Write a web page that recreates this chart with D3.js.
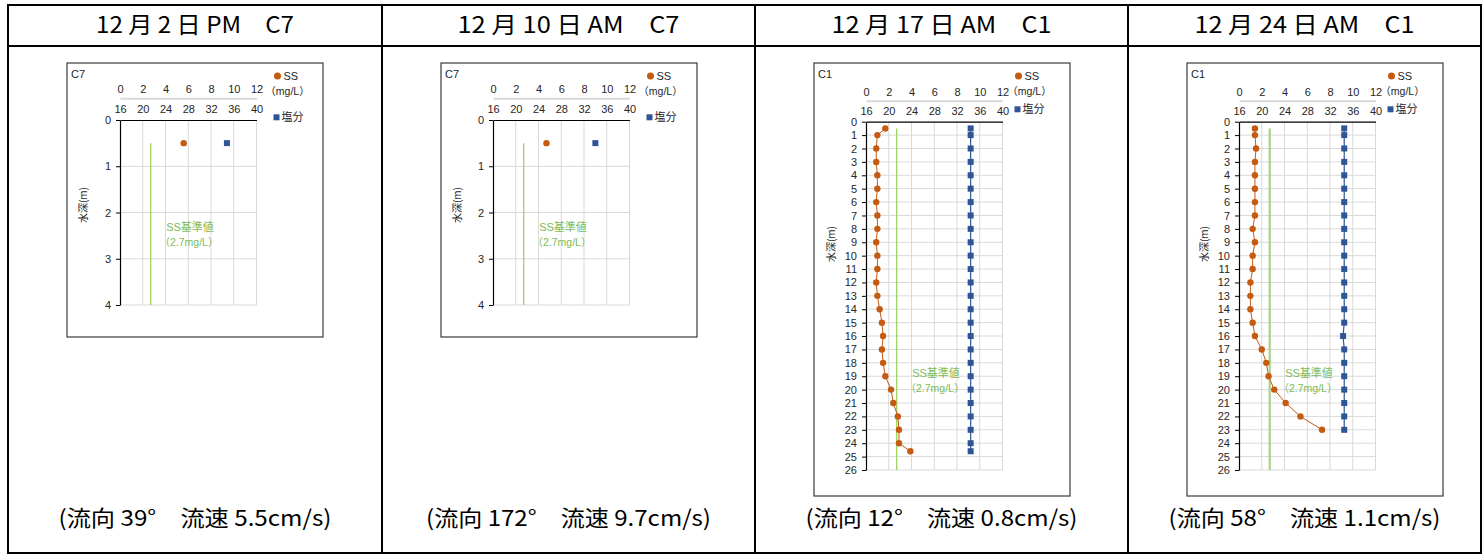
<!DOCTYPE html>
<html>
<head>
<meta charset="utf-8">
<script src="https://cdn.jsdelivr.net/npm/d3@7"></script>
<style>
  body { margin: 0; background: #fff; }
  svg { display: block; }
  .tick text { font-family: "Liberation Sans", "Noto Sans CJK JP", sans-serif; }
</style>
</head>
<body>
<svg id="chart" width="1483" height="557"></svg>
<script>
// table texts
var headers = ["12 月 2 日 PM　C7", "12 月 10 日 AM　C7", "12 月 17 日 AM　C1", "12 月 24 日 AM　C1"];
var footers = ["(流向 39°　流速 5.5cm/s)", "(流向 172°　流速 9.7cm/s)", "(流向 12°　流速 0.8cm/s)", "(流向 58°　流速 1.1cm/s)"];
var stations = ["C7", "C7", "C1", "C1"];
var depthMax = [4, 4, 26, 26];

// axis ticks
var ssTicks = [0, 2, 4, 6, 8, 10, 12];
var salTicks = [16, 20, 24, 28, 32, 36, 40];
var ssStandard = 2.7;

// 12/2 PM C7
var depth1 = [0.5];
var ss1 = [5.6];
var sal1 = [34.8];

// 12/10 AM C7
var depth2 = [0.5];
var ss2 = [4.7];
var sal2 = [34.0];

// 12/17 AM C1
var depth3 = [0.5, 1, 2, 3, 4, 5, 6, 7, 8, 9, 10, 11, 12, 13, 14, 15, 16, 17, 18, 19, 20, 21, 22, 23, 24, 24.6];
var ss3 = [1.7, 1.0, 0.9, 0.9, 1.0, 1.0, 0.9, 1.0, 1.0, 0.9, 1.0, 1.0, 0.9, 1.0, 1.2, 1.4, 1.5, 1.4, 1.5, 1.7, 2.2, 2.4, 2.8, 2.9, 2.9, 3.9];
var sal3 = [34.4, 34.4, 34.4, 34.4, 34.4, 34.4, 34.4, 34.4, 34.4, 34.4, 34.4, 34.4, 34.4, 34.4, 34.4, 34.4, 34.4, 34.4, 34.4, 34.4, 34.4, 34.4, 34.4, 34.4, 34.4, 34.4];

// 12/24 AM C1
var depth4 = [0.5, 1, 2, 3, 4, 5, 6, 7, 8, 9, 10, 11, 12, 13, 14, 15, 16, 17, 18, 19, 20, 21, 22, 23];
var ss4 = [1.4, 1.4, 1.5, 1.4, 1.4, 1.4, 1.4, 1.4, 1.2, 1.4, 1.2, 1.2, 1.0, 1.0, 1.0, 1.2, 1.4, 2.0, 2.4, 2.6, 3.1, 4.1, 5.4, 7.3];
var sal4 = [34.5, 34.5, 34.5, 34.5, 34.5, 34.5, 34.5, 34.5, 34.5, 34.5, 34.5, 34.5, 34.5, 34.5, 34.5, 34.5, 34.3, 34.5, 34.5, 34.5, 34.5, 34.5, 34.5, 34.5];

var depths = [depth1, depth2, depth3, depth4];
var ssVals = [ss1, ss2, ss3, ss4];
var salVals = [sal1, sal2, sal3, sal4];

var svg = d3.select("#chart");
var FONT = '"Liberation Sans", "Noto Sans CJK JP", sans-serif';
var JP = '"Noto Sans CJK JP", sans-serif';

// table layout
var colX = [8, 382, 755, 1128, 1481];
var tableTop = 5, headerBottom = 46, tableBottom = 553;
var headerLen = [198, 222, 220, 220];
var footerLen = [273, 285, 272, 272];

for (var i = 0; i < 4; i++) {
  var cx = (colX[i] + colX[i + 1]) / 2;
  // condensed look: big glyphs squeezed to the measured width
  svg.append("text")
    .attr("x", cx).attr("y", 33)
    .attr("text-anchor", "middle")
    .attr("font-family", JP).attr("font-size", 23)
    .attr("textLength", headerLen[i]).attr("lengthAdjust", "spacingAndGlyphs")
    .text(headers[i]);
  svg.append("text")
    .attr("x", cx).attr("y", 526)
    .attr("text-anchor", "middle")
    .attr("font-family", JP).attr("font-size", 22)
    .attr("textLength", footerLen[i]).attr("lengthAdjust", "spacingAndGlyphs")
    .text(footers[i]);
}

// draw each small chart
function drawPanel(p) {
  var col = colX[p];
  var tall = depthMax[p] > 4;
  var boxX = col + 59, boxY = 63, boxW = 256, boxH = tall ? 433 : 274;
  var plotL = col + (p === 0 ? 112 : 111), plotW = 136.5;
  var plotT = tall ? 121.7 : 120, plotB = tall ? 470 : 305;

  var g = svg.append("g");

  g.append("rect")
    .attr("x", boxX).attr("y", boxY).attr("width", boxW).attr("height", boxH)
    .attr("fill", "#fff").attr("stroke", "#3a3a3a").attr("stroke-width", 1.2);

  var y = d3.scaleLinear().domain([0, depthMax[p]]).range([plotT, plotB]);
  var xSS = d3.scaleLinear().domain([0, 12]).range([plotL, plotL + plotW]);
  var xSal = d3.scaleLinear().domain([16, 40]).range([plotL, plotL + plotW]);

  // gridlines
  g.selectAll(".vgrid").data(salTicks.slice(1)).enter().append("line")
    .attr("x1", function(d) { return xSal(d); }).attr("x2", function(d) { return xSal(d); })
    .attr("y1", plotT).attr("y2", plotB)
    .attr("stroke", "#d9d9d9").attr("stroke-width", 1);
  g.selectAll(".hgrid").data(d3.range(1, depthMax[p] + 1)).enter().append("line")
    .attr("x1", plotL).attr("x2", plotL + plotW)
    .attr("y1", function(d) { return y(d); }).attr("y2", function(d) { return y(d); })
    .attr("stroke", "#d9d9d9").attr("stroke-width", 1);

  // SS axis on top (gray line)
  var ssAxisY = tall ? 100.7 : 98.3;
  var ssAxis = g.append("g").attr("transform", "translate(0," + ssAxisY + ")")
    .call(d3.axisTop(xSS).tickValues(ssTicks).tickSize(0).tickPadding(5));
  ssAxis.select(".domain").attr("stroke", "#d9d9d9").attr("stroke-width", 2);
  ssAxis.selectAll("text").attr("font-size", 11).attr("fill", "#262626");

  // salinity axis at depth 0
  var salAxis = g.append("g").attr("transform", "translate(0," + plotT + ")")
    .call(d3.axisTop(xSal).tickValues(salTicks).tickSize(0).tickPadding(7));
  salAxis.select(".domain").attr("stroke", "#000").attr("stroke-width", 1.2);
  salAxis.selectAll("text").attr("font-size", 11).attr("fill", "#262626");

  // depth axis
  var yAxis = g.append("g").attr("transform", "translate(" + plotL + ",0)")
    .call(d3.axisLeft(y).tickValues(d3.range(0, depthMax[p] + 1)).tickFormat(d3.format("d"))
      .tickSize(4).tickPadding(5).tickSizeOuter(0));
  yAxis.select(".domain").attr("stroke", "#000").attr("stroke-width", 1.2);
  yAxis.selectAll("line").attr("stroke", "#000");
  yAxis.selectAll("text").attr("font-size", 11).attr("fill", "#262626");

  // y title
  var titleY = tall ? 244 : 205;
  g.append("text")
    .attr("transform", "translate(" + (boxX + (tall ? 17 : 16)) + "," + titleY + ") rotate(-90)")
    .attr("text-anchor", "middle").attr("dy", "0.35em")
    .attr("font-family", JP).attr("font-size", 10).attr("fill", "#262626")
    .text("水深(m)");

  // station label
  g.append("text")
    .attr("x", boxX + 4).attr("y", boxY + 15)
    .attr("font-family", FONT).attr("font-size", 11).attr("fill", "#262626")
    .text(stations[p]);

  // SS standard line
  g.append("line")
    .attr("x1", xSS(ssStandard)).attr("x2", xSS(ssStandard))
    .attr("y1", y(0.5)).attr("y2", plotB)
    .attr("stroke", p === 3 ? "#a9d18e" : "#92d050")
    .attr("stroke-width", p === 3 ? 2.2 : 1.2);
  var lblX = plotL + 70;
  var lblY = tall ? 373 : 227;
  g.append("text")
    .attr("x", lblX).attr("y", lblY).attr("dy", "0.35em")
    .attr("text-anchor", "middle")
    .attr("font-family", FONT).attr("font-size", 11).attr("fill", "#7dbb55")
    .text("SS基準値");
  g.append("text")
    .attr("x", lblX - 1).attr("y", lblY + 15).attr("dy", "0.35em")
    .attr("text-anchor", "middle")
    .attr("font-family", FONT).attr("font-size", 10.5).attr("fill", "#7dbb55")
    .text("（2.7mg/L）");

  // series
  var ssData = depths[p].map(function(d, j) { return { depth: d, v: ssVals[p][j] }; });
  var salData = depths[p].map(function(d, j) { return { depth: d, v: salVals[p][j] }; });

  var ssLine = d3.line().x(function(d) { return xSS(d.v); }).y(function(d) { return y(d.depth); });
  var salLine = d3.line().x(function(d) { return xSal(d.v); }).y(function(d) { return y(d.depth); });

  g.append("path").datum(salData).attr("d", salLine)
    .attr("fill", "none").attr("stroke", "#2f5597").attr("stroke-width", 1.2);
  g.selectAll(".sal").data(salData).enter().append("rect")
    .attr("x", function(d) { return xSal(d.v) - 3; })
    .attr("y", function(d) { return y(d.depth) - 3; })
    .attr("width", 6).attr("height", 6)
    .attr("fill", "#2f5597");

  g.append("path").datum(ssData).attr("d", ssLine)
    .attr("fill", "none").attr("stroke", "#c55a11").attr("stroke-width", 1);
  g.selectAll(".ss").data(ssData).enter().append("circle")
    .attr("cx", function(d) { return xSS(d.v); })
    .attr("cy", function(d) { return y(d.depth); })
    .attr("r", 3.2)
    .attr("fill", "#c55a11");

  // legend
  var legX = plotL + plotW + (tall ? 15 : 20);
  g.append("circle").attr("cx", legX + 1).attr("cy", 76).attr("r", 3.5).attr("fill", "#c55a11");
  g.append("text").attr("x", legX + 7).attr("y", 76).attr("dy", "0.35em")
    .attr("font-family", FONT).attr("font-size", 11).attr("fill", "#262626").text("SS");
  g.append("text").attr("x", legX + (tall ? 12 : 11)).attr("y", 91).attr("dy", "0.35em")
    .attr("text-anchor", "middle")
    .attr("font-family", FONT).attr("font-size", 10.5).attr("fill", "#262626").text("（mg/L）");
  var salLegY = tall ? 109.3 : 117.3;
  g.append("rect").attr("x", legX - 3).attr("y", salLegY - 3).attr("width", 6).attr("height", 6)
    .attr("fill", "#2f5597");
  g.append("text").attr("x", legX + 5).attr("y", salLegY).attr("dy", "0.35em")
    .attr("font-family", JP).attr("font-size", 11).attr("fill", "#262626").text("塩分");
}

for (var p = 0; p < 4; p++) drawPanel(p);

// table borders on top
var border = svg.append("g").attr("fill", "none").attr("stroke", "#000").attr("stroke-width", 2);
border.append("rect")
  .attr("x", colX[0]).attr("y", tableTop)
  .attr("width", colX[4] - colX[0]).attr("height", tableBottom - tableTop);
border.append("line").attr("x1", colX[0]).attr("x2", colX[4]).attr("y1", headerBottom).attr("y2", headerBottom);
border.selectAll(".col").data(colX.slice(1, 4)).enter().append("line")
  .attr("x1", function(d) { return d; }).attr("x2", function(d) { return d; })
  .attr("y1", tableTop).attr("y2", tableBottom);
</script>
</body>
</html>
